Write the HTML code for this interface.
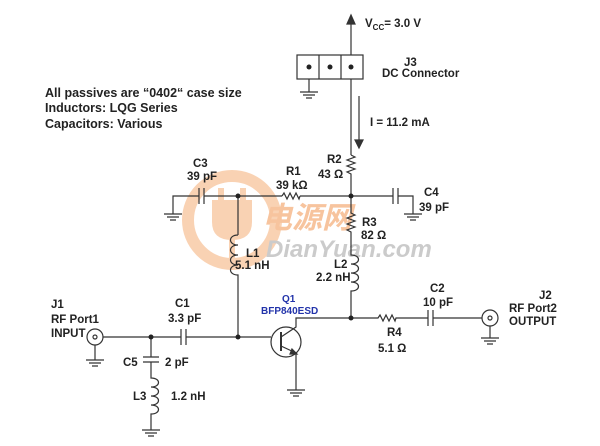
<!DOCTYPE html>
<html><head><meta charset="utf-8"><style>
body{margin:0;background:#fff;width:600px;height:446px;overflow:hidden}
svg{display:block}
text{font-family:"Liberation Sans",Arial,sans-serif;font-weight:bold;font-size:11.5px;fill:#222}
.n{font-size:12.5px}
</style></head><body>
<svg width="600" height="446" viewBox="0 0 600 446" xmlns="http://www.w3.org/2000/svg">
<g opacity="0.5">
<circle cx="232" cy="220" r="44" fill="none" stroke="#f5a66a" stroke-width="12"/>
<path d="M212 200 h40 v22 q0 18 -20 18 q-20 0 -20 -18z" fill="#f5a66a"/>
<rect x="218" y="188" width="6" height="14" fill="#f5a66a"/><rect x="240" y="188" width="6" height="14" fill="#f5a66a"/>
<rect x="229" y="238" width="6" height="22" fill="#f5a66a"/>
<text x="262" y="228" style="font-size:30px;fill:#f08a40;font-style:italic;font-family:'Noto Sans CJK SC',sans-serif">电源网</text>
<text x="266" y="257" style="font-size:24px;fill:#999;font-style:italic">DianYuan.com</text>
</g>
<g stroke="#333" stroke-width="1.2" fill="none">
<line x1="351" y1="20" x2="351" y2="155"/>
<path d="M347 24 L351 15 L355 24z" fill="#333"/>
<rect x="297" y="55" width="66" height="24" fill="#fff"/>
<line x1="319" y1="55" x2="319" y2="79"/><line x1="341" y1="55" x2="341" y2="79"/>
<line x1="309" y1="79" x2="309" y2="92"/>
<path d="M300 92h18M303 95h12M306 98h6"/>
<line x1="359" y1="96" x2="359" y2="145"/>
<path d="M355 140 L359 148 L363 140z" fill="#333"/>
<path d="M351 155 l4 2 l-8 3 l8 3 l-8 3 l8 3 l-8 3 l4 2 v22"/>
<path d="M173 214 V196 H199 M204 196 H282 M300 196 H393 M398 196 H413 V214"/>
<path d="M199 188v16M204 188v16M393 188v16M398 188v16"/>
<path d="M282 196 l2 -3 l3 6 l3 -6 l3 6 l3 -6 l3 6 l1 -3"/>
<path d="M164 214h18M167 217h12M170 220h6M404 214h18M407 217h12M410 220h6"/>
<path d="M238 196 V235 M238 235 c-10 0 -10 10 0 10 c-10 0 -10 10 0 10 c-10 0 -10 10 0 10 c-10 0 -10 10 0 10 V337"/>
<path d="M351 196 V213 l4 2 l-8 3 l8 3 l-8 3 l8 3 l-8 3 l4 2 V255 c10 0 10 9 0 9 c10 0 10 9 0 9 c10 0 10 9 0 9 c10 0 10 9 0 9 V318"/>
<path d="M103 337 H181 M186 337 H271"/>
<path d="M181 329v16M186 329v16"/>
<circle cx="95" cy="337" r="8"/><circle cx="95" cy="337" r="2"/>
<path d="M95 345 V360 M86 360h18M89 363h12M92 366h6"/>
<path d="M151 337 V357 M143 357h16M143 362h16 M151 362 V378 c10 0 10 9 0 9 c10 0 10 9 0 9 c10 0 10 9 0 9 c10 0 10 9 0 9 V430"/>
<path d="M142 430h18M145 433h12M148 436h6"/>
<circle cx="286" cy="342" r="15"/>
<line x1="281" y1="332" x2="281" y2="351" stroke-width="2"/>
<path d="M281 337 L296 327 V318 H351 M281 346 L296 353 V390"/>
<path d="M292 349 L297 354 L290 354z" fill="#333"/>
<path d="M287 390h18M290 393h12M293 396h6"/>
<path d="M351 318 H378 l2 -3 l3 6 l3 -6 l3 6 l3 -6 l3 6 l1 -3 H428 M433 318 H482"/>
<path d="M428 310v16M433 310v16"/>
<circle cx="490" cy="318" r="8"/><circle cx="490" cy="318" r="2"/>
<path d="M490 326 V338 M481 338h18M484 341h12M487 344h6"/>
</g>
<g fill="#222">
<circle cx="238" cy="196" r="2.5"/><circle cx="351" cy="196" r="2.5"/><circle cx="238" cy="337" r="2.5"/><circle cx="151" cy="337" r="2.5"/><circle cx="351" cy="318" r="2.5"/>
<circle cx="309" cy="67" r="2.5"/><circle cx="330" cy="67" r="2.5"/><circle cx="351" cy="67" r="2.5"/>
</g>
<text x="365" y="27">V<tspan dy="3" font-size="8">CC</tspan><tspan dy="-3">= 3.0 V</tspan></text>
<text x="404" y="66">J3</text><text x="382" y="77">DC Connector</text>
<text x="370" y="126">I = 11.2 mA</text>
<text class="n" x="45" y="97">All passives are “0402“ case size</text>
<text class="n" x="45" y="112">Inductors:  LQG Series</text>
<text class="n" x="45" y="128">Capacitors:  Various</text>
<text x="193" y="167">C3</text><text x="187" y="180">39 pF</text>
<text x="286" y="175">R1</text><text x="276" y="189">39 kΩ</text>
<text x="327" y="163">R2</text><text x="318" y="178">43 Ω</text>
<text x="424" y="196">C4</text><text x="419" y="211">39 pF</text>
<text x="362" y="226">R3</text><text x="361" y="239">82 Ω</text>
<text x="246" y="257">L1</text><text x="235" y="269">5.1 nH</text>
<text x="334" y="268">L2</text><text x="316" y="281">2.2 nH</text>
<text x="175" y="307">C1</text><text x="168" y="322">3.3 pF</text>
<text x="51" y="308">J1</text><text x="51" y="323">RF Port1</text><text x="51" y="337">INPUT</text>
<text x="123" y="366">C5</text><text x="165" y="366">2 pF</text>
<text x="133" y="400">L3</text><text x="171" y="400">1.2 nH</text>
<text x="282" y="302" style="fill:#2233aa;font-size:10px">Q1</text>
<text x="261" y="314" style="fill:#2233aa;font-size:10px">BFP840ESD</text>
<text x="430" y="292">C2</text>
<text x="423" y="306">10 pF</text>
<text x="539" y="299">J2</text><text x="509" y="312">RF Port2</text><text x="509" y="325">OUTPUT</text>
<text x="387" y="336">R4</text><text x="378" y="352">5.1 Ω</text>
</svg>
</body></html>
